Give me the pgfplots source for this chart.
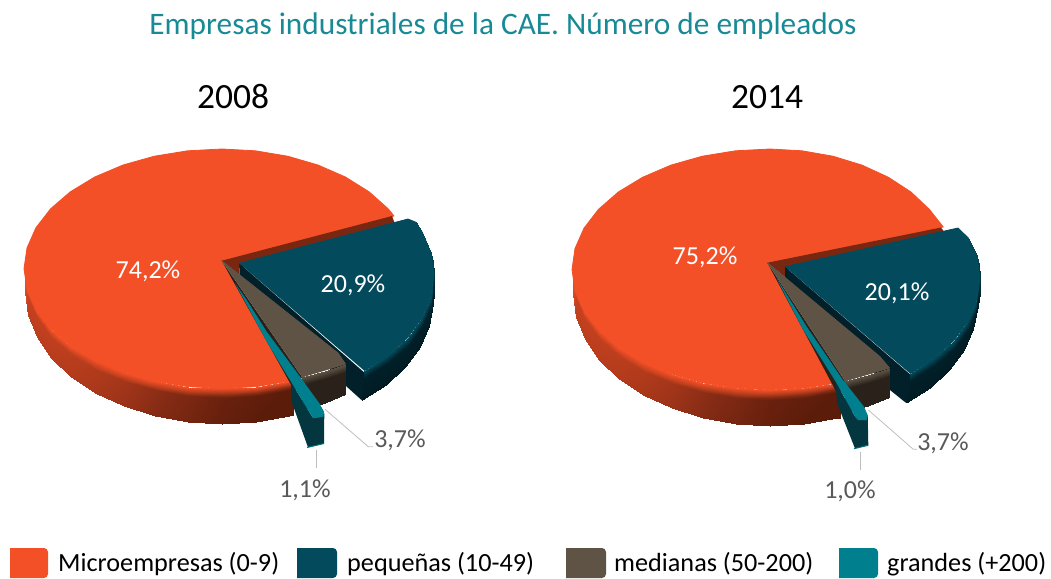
\documentclass[border=0pt]{standalone}
\usepackage{pgfplots}
\pgfplotsset{compat=1.18}
\usepackage{fontspec}
\setmainfont{Carlito}
\definecolor{cOrg}{RGB}{244,80,39}
\definecolor{cDeep}{RGB}{3,75,92}
\definecolor{cBrown}{RGB}{95,83,70}
\definecolor{cBrownD}{RGB}{42,34,26}
\definecolor{cTeal}{RGB}{0,128,143}
\definecolor{cTealD}{RGB}{4,54,63}
\definecolor{cWall}{RGB}{1,32,41}
\definecolor{cWedge}{RGB}{122,39,18}
\definecolor{cTitle}{RGB}{24,138,150}
\definecolor{cLab}{RGB}{89,89,89}
\definecolor{cLead}{RGB}{190,190,190}
\pgfplotsset{
 colormap={mOrg}{rgb255=(244,80,39) rgb255=(190,63,30) rgb255=(130,42,20) rgb255=(92,28,10)},
 colormap={mDeep}{rgb255=(3,75,92) rgb255=(1,27,35)},
 colormap={mBrown}{rgb255=(95,83,70) rgb255=(42,34,26)},
 face/.style={fill=#1,draw=#1,line width=.8pt,line join=round},
}
\newcommand{\lab}[4]{\node[font=\fontsize{#3}{#3}\selectfont,text=#4,inner sep=0pt,anchor=center] at (axis cs:#1) {#2};}
\begin{document}
\begin{tikzpicture}
\begin{axis}[
  scale only axis, width=1051pt, height=578pt,
  xmin=0, xmax=1051, ymin=0, ymax=578, y dir=reverse,
  hide axis, clip=false, point meta min=0, point meta max=1,
]
\path (axis cs:0,0) rectangle (axis cs:1051,578);
% ---------- PIE 2008 ----------
\addplot[surf,shader=interp,colormap name=mOrg,mesh/rows=13,mesh/cols=3,point meta=explicit] table[meta=c] {
x y c
24 268.7 0
25 275.6 .08
25 292 .15
27 289.5 0
28 296.8 .28
28 315 .33
35.9 309.6 0
36.8 317.3 .30
36.8 337.1 .35
50.5 328.5 0
51.4 336.6 .32
51.4 358 .37
70.3 345.7 0
71.1 354 .35
71.1 376.9 .40
94.7 360.4 0
95.3 369.1 .40
95.3 393.1 .45
123 372.4 0
123.5 381.3 .48
123.5 406.3 .53
154.3 381.2 0
154.6 390.3 .60
154.6 416.1 .65
187.5 386.6 0
187.7 395.8 .72
187.7 422 .78
222 388.4 0
222 397.6 .88
222 424 .92
256.4 386.6 0
256.2 395.8 .95
256.2 422 1
289.7 381.2 0
289.4 390.3 1
289.4 416.1 1
293 380.5 0
293 389.6 1
293 415 1
};
\addplot[face=cOrg] coordinates {(221.7,260.7)(394,216)(388.3,208.9)(369.1,191.8)(345.4,177)(318,165)(287.7,156.2)(255.4,150.8)(222,149)(187.6,150.8)(154.3,156.2)(123,165)(94.7,177)(70.3,191.8)(50.5,208.9)(35.9,227.8)(27,247.9)(24,268.7)(27,289.5)(35.9,309.6)(50.5,328.5)(70.3,345.7)(94.7,360.4)(123,372.4)(154.3,381.2)(187.5,386.6)(222,388.4)(256.4,386.6)(289.7,381.2)(293,380.5)};
\addplot[fill=cWedge,draw=none] coordinates {(221.7,260.7)(392,216)(395,224)(239,268)(239,275)};
\addplot[fill=cBrownD,draw=none] coordinates {(221.7,260.7)(302,377)(295,392)};
\addplot[fill=cWall,draw=none] coordinates {(239.3,263.3)(366,374)(364,397)(361.5,400)(346,386)(239.3,275)};
\addplot[surf,shader=interp,colormap name=mDeep,mesh/rows=9,mesh/cols=3,point meta=explicit] table[meta=c] {
x y c
364.4 370.8 0
364.4 377.5 .9
361.5 400 1
388.4 355.4 0
389 362 .9
385.5 385 1
407.9 337.5 0
408.6 344.5 .9
405 367 1
422.2 317.8 0
423.2 324.5 .9
419.5 347 1
431 296.7 0
432.3 303 .8
428.5 326 1
434 275 0
434.5 283 .6
432.5 304 1
431.1 253.3 0
433 262 .3
434 284 .7
422.2 232.3 0
424 238 .2
431.1 253.3 .3
415.7 222.2 0
416 223 .1
416.5 224 .1
};
\addplot[face=cDeep] coordinates {(239.3,263.3)(408,219)(415.7,222.2)(422.2,232.3)(431.1,253.3)(434,275)(431,296.7)(422.2,317.8)(407.9,337.5)(388.4,355.4)(364.4,370.8)};
\addplot[surf,shader=interp,colormap name=mBrown,mesh/rows=3,mesh/cols=3,point meta=explicit] table[meta=c] {
x y c
345.5 364 0
345.5 372 1
345.5 394 1
325 371 0
325 379 1
325 403 1
302 377 0
302 385 1
302 410 1
};
\addplot[face=cBrown] coordinates {(221.7,260.7)(338,353)(345.5,364)(302,377)};
\addplot[fill=cTealD,draw=none] coordinates {(291,381.7)(291,400)(308,447.3)(324,443.5)(324.3,413.3)(313.3,418.3)(310,413.3)};
\addplot[fill=cTeal,draw=none] coordinates {(235,283.3)(246.7,300)(266.7,331.7)(300,376.7)(319.3,403.3)(324,411.7)(323.3,416.7)(313.3,418.3)(310,413.3)(300,396.7)(291,381.7)(266.7,341.7)(243.3,298.3)};
\addplot[color=cTeal!85!black,line width=1pt] coordinates {(307,447.5)(324,443.5)};
\addplot[color=cLead,line width=.8pt] coordinates {(325,409.3)(368.3,446.7)(373,446.7)};
\addplot[color=cLead,line width=.8pt] coordinates {(316,450)(316,468)};
% ---------- PIE 2014 ----------
\addplot[surf,shader=interp,colormap name=mOrg,mesh/rows=13,mesh/cols=3,point meta=explicit] table[meta=c] {
x y c
572 269.5 0
573 277 .08
573 293.5 .15
575 290.5 0
576 298.3 .28
576 316.6 .33
583.9 310.7 0
584.8 318.9 .30
584.8 338.8 .35
598.5 329.8 0
599.4 338.3 .32
599.4 359.8 .37
618.3 347 0
619.1 355.8 .35
619.1 378.7 .40
642.7 361.8 0
643.3 370.8 .40
643.3 395 .45
671 373.9 0
671.5 383.1 .48
671.5 408.2 .53
702.3 382.8 0
702.6 392.2 .60
702.6 418 .65
735.5 388.2 0
735.7 397.7 .72
735.7 424 .78
770 390 0
770 399.5 .88
770 426 .92
804.4 388.2 0
804.2 397.7 .95
804.2 424 1
837.7 382.8 0
837.4 392.2 1
837.4 418 1
840 382 0
840 391.5 1
840 417.5 1
};
\addplot[face=cOrg] coordinates {(767.3,262.7)(943.3,227)(929.3,209.3)(911,192)(888.3,177.2)(862,165.1)(832.9,156.2)(802,150.8)(770,149)(735.5,150.8)(702.3,156.2)(671,165.1)(642.7,177.2)(618.3,192)(598.5,209.3)(583.9,228.3)(575,248.5)(572,269.5)(575,290.5)(583.9,310.7)(598.5,329.8)(618.3,347)(642.7,361.8)(671,373.9)(702.3,382.8)(735.5,388.2)(770,390)(804.4,388.2)(837.7,382.8)(840,382)};
\addplot[fill=cWedge,draw=none] coordinates {(767.3,262.7)(941,227.5)(945,233)(785,271)(785,277)};
\addplot[fill=cBrownD,draw=none] coordinates {(767.3,262.7)(845,381)(838,395)};
\addplot[fill=cWall,draw=none] coordinates {(785,266.7)(912,376)(909,399)(905.5,402.5)(890,390)(785,279)};
\addplot[surf,shader=interp,colormap name=mDeep,mesh/rows=9,mesh/cols=3,point meta=explicit] table[meta=c] {
x y c
910.4 373.8 0
910.4 380.5 .9
905.5 402.5 1
934.4 358.4 0
935 365 .9
930 388 1
953.9 340.5 0
954.6 347.5 .9
949 369.5 1
968.3 320.8 0
969.3 327.5 .9
963.5 349.5 1
977 299.7 0
978.3 306 .8
972.5 328.5 1
980 278 0
980.5 286 .6
977 307 1
977 256.3 0
979 265 .3
980 287 .7
968.3 238 0
970 242 .2
977 256.3 .3
959 229 0
960 230 .1
960 230.5 .1
};
\addplot[face=cDeep] coordinates {(785,266.7)(958,228)(968.3,238)(977,256.3)(980,278)(977,299.7)(968.3,320.8)(953.9,340.5)(934.4,358.4)(910.4,373.8)};
\addplot[surf,shader=interp,colormap name=mBrown,mesh/rows=3,mesh/cols=3,point meta=explicit] table[meta=c] {
x y c
889.5 368 0
889.5 376 1
889.5 397 1
868 375 0
868 383 1
868 406 1
845 381 0
845 389 1
845 412 1
};
\addplot[face=cBrown] coordinates {(767.3,262.7)(880,356.7)(889.5,368)(845,381)};
\addplot[fill=cTealD,draw=none] coordinates {(835.7,381.7)(837,403)(855,448.5)(868.3,445)(867.7,415)(858.3,420)(855,416.7)};
\addplot[fill=cTeal,draw=none] coordinates {(776.7,278.3)(806.7,326.7)(841.7,378.3)(864,406.7)(867.7,415)(866.7,420)(858.3,420)(855,416.7)(845,398.3)(835.7,381.7)(803.3,330)(781.7,288.3)};
\addplot[color=cTeal!85!black,line width=1pt] coordinates {(854,448.7)(868.3,445.3)};
\addplot[color=cLead,line width=.8pt] coordinates {(868.3,410)(913.3,449.3)(917,449.3)};
\addplot[color=cLead,line width=.8pt] coordinates {(860.7,452)(860.7,470)};
% ---------- legend swatches ----------
\addplot[fill=cOrg,draw=none,rounded corners=4pt] coordinates {(10,548)(48,548)(48,578)(10,578)};
\addplot[fill=cDeep,draw=none,rounded corners=4pt] coordinates {(297,548)(337,548)(337,578)(297,578)};
\addplot[fill=cBrown,draw=none,rounded corners=4pt] coordinates {(566,548)(606,548)(606,578)(566,578)};
\addplot[fill=cTeal,draw=none,rounded corners=4pt] coordinates {(839,548)(878,548)(878,578)(839,578)};
% ---------- text ----------
\lab{503,26}{Empresas industriales de la CAE. Número de empleados}{31.3}{cTitle}
\lab{233,97}{2008}{35.5}{black}
\lab{767,97}{2014}{35.5}{black}
\lab{148,271}{74,2\%}{26}{white}
\lab{353,285}{20,9\%}{26}{white}
\lab{400,440}{3,7\%}{26}{cLab}
\lab{305,490}{1,1\%}{26}{cLab}
\lab{705,257}{75,2\%}{26}{white}
\lab{897,293}{20,1\%}{26}{white}
\lab{943,443}{3,7\%}{26}{cLab}
\lab{850,491}{1,0\%}{26}{cLab}
\node[font=\fontsize{26.2}{26}\selectfont,inner sep=0pt,anchor=base west] at (axis cs:58,571.5) {Microempresas (0-9)};
\node[font=\fontsize{26.2}{26}\selectfont,inner sep=0pt,anchor=base west] at (axis cs:347,571.5) {pequeñas (10-49)};
\node[font=\fontsize{26.2}{26}\selectfont,inner sep=0pt,anchor=base west] at (axis cs:614,571.5) {medianas (50-200)};
\node[font=\fontsize{26.2}{26}\selectfont,inner sep=0pt,anchor=base west] at (axis cs:887,571.5) {grandes (+200)};
\end{axis}
\end{tikzpicture}
\end{document}
